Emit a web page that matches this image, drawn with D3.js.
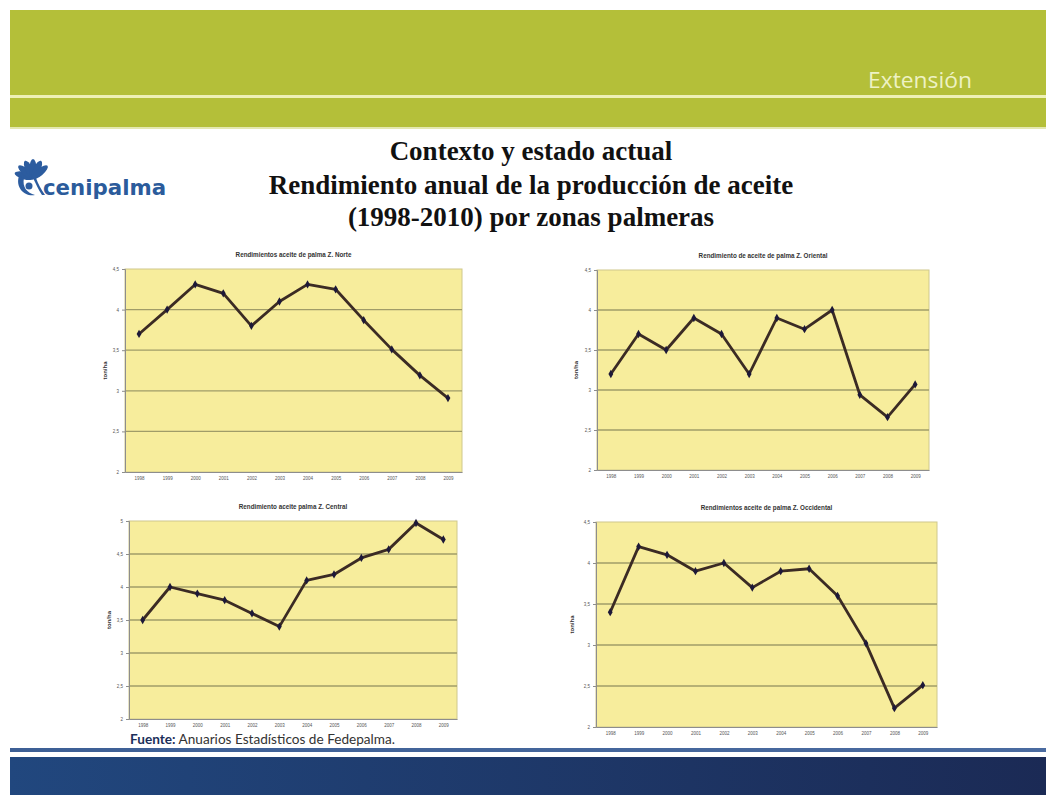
<!DOCTYPE html>
<html>
<head>
<meta charset="utf-8">
<script src="https://cdn.jsdelivr.net/npm/d3@7"></script>
<style>
  html, body { margin: 0; padding: 0; background: #ffffff; }
  svg { display: block; }
</style>
</head>
<body>
<svg id="slide" width="1046" height="795"></svg>
<script>
// Years on the horizontal axis of every panel
const years = ['1998', '1999', '2000', '2001', '2002', '2003', '2004', '2005', '2006', '2007', '2008', '2009'];

// Oil yield (t/ha) per palm zone
const yieldNorte      = [3.70, 4.00, 4.31, 4.20, 3.80, 4.10, 4.31, 4.25, 3.87, 3.51, 3.19, 2.91];
const yieldOriental   = [3.20, 3.70, 3.50, 3.90, 3.70, 3.20, 3.90, 3.76, 4.00, 2.94, 2.66, 3.07];
const yieldCentral    = [3.50, 4.00, 3.90, 3.80, 3.60, 3.40, 4.10, 4.19, 4.44, 4.57, 4.97, 4.72];
const yieldOccidental = [3.40, 4.20, 4.10, 3.90, 4.00, 3.70, 3.90, 3.93, 3.60, 3.02, 2.23, 2.51];

// Value-axis ticks
const ticksDefault = [2, 2.5, 3, 3.5, 4, 4.5];
const ticksCentral = [2, 2.5, 3, 3.5, 4, 4.5, 5];

// Panel titles
const titleNorte      = 'Rendimientos aceite de palma Z. Norte';
const titleOriental   = 'Rendimiento de aceite de palma Z. Oriental';
const titleCentral    = 'Rendimiento aceite palma Z. Central';
const titleOccidental = 'Rendimientos aceite de palma Z. Occidental';
const yAxisTitle = 'ton/ha';

const esLocale = d3.formatLocale({ decimal: ',', thousands: '.', grouping: [3], currency: ['', ' €'] });
const fmtTick = v => esLocale.format('~g')(v);

const svg = d3.select('#slide');

// ---------- header band ----------
svg.append('rect').attr('x', 10).attr('y', 10).attr('width', 1036).attr('height', 118).attr('fill', '#b4bf39');
svg.append('rect').attr('x', 10).attr('y', 95).attr('width', 1036).attr('height', 3).attr('fill', '#eef0b6');
svg.append('rect').attr('x', 10).attr('y', 127).attr('width', 1036).attr('height', 2).attr('fill', '#e4e8b0');
svg.append('text').attr('x', 972).attr('y', 88).attr('text-anchor', 'end')
  .attr('font-family', 'Open Sans, sans-serif').attr('font-size', 21).attr('fill', '#eef2c4')
  .attr('textLength', 104).attr('lengthAdjust', 'spacingAndGlyphs')
  .text('Extensión');

// ---------- footer band ----------
const defs = svg.append('defs');
const gFoot = defs.append('linearGradient').attr('id', 'footGrad').attr('x1', 0).attr('x2', 1).attr('y1', 0).attr('y2', 0);
gFoot.append('stop').attr('offset', '0%').attr('stop-color', '#21477e');
gFoot.append('stop').attr('offset', '100%').attr('stop-color', '#1b2a55');
const gLine = defs.append('linearGradient').attr('id', 'lineGrad').attr('x1', 0).attr('x2', 1).attr('y1', 0).attr('y2', 0);
gLine.append('stop').attr('offset', '0%').attr('stop-color', '#3d5f95');
gLine.append('stop').attr('offset', '100%').attr('stop-color', '#4a6ba0');
svg.append('rect').attr('x', 10).attr('y', 748).attr('width', 1036).attr('height', 4).attr('fill', 'url(#lineGrad)');
svg.append('rect').attr('x', 10).attr('y', 757).attr('width', 1036).attr('height', 38).attr('fill', 'url(#footGrad)');

// ---------- logo ----------
const logo = svg.append('g').attr('transform', 'translate(33,178)');
const frondAngles = [-165, -140, -115, -90, -65, -40];
logo.selectAll('ellipse.frond').data(frondAngles).join('ellipse')
  .attr('class', 'frond')
  .attr('cx', 0).attr('cy', 0).attr('rx', 10).attr('ry', 3.6)
  .attr('fill', '#2c5c9f')
  .attr('transform', a => `rotate(${a}) translate(9,0)`);
logo.append('path')
  .attr('d', 'M-14,-2 C-18,10 -8,19 2,17 C-6,15 -11,9 -9,0 Z')
  .attr('fill', '#2c5c9f');
logo.append('circle').attr('cx', -4).attr('cy', 8).attr('r', 3.5).attr('fill', '#2c5c9f');
logo.append('path')
  .attr('d', 'M0,0 C3,6 5,11 9,17 L12,17 C8,11 5,6 3,0 Z')
  .attr('fill', '#2c5c9f');
svg.append('text').attr('x', 43).attr('y', 195)
  .attr('font-family', 'DejaVu Sans Condensed, DejaVu Sans, sans-serif').attr('font-weight', 'bold')
  .attr('font-size', 22).attr('fill', '#2b5b9b')
  .attr('textLength', 123).attr('lengthAdjust', 'spacingAndGlyphs')
  .text('cenipalma');

// ---------- slide title ----------
const titleLines = ['Contexto y estado actual', 'Rendimiento anual de la producción de aceite', '(1998-2010) por zonas palmeras'];
const titleBaselines = [160, 194, 226];
svg.selectAll('text.slideTitle').data(titleLines).join('text')
  .attr('class', 'slideTitle')
  .attr('x', 531).attr('y', (d, i) => titleBaselines[i])
  .attr('text-anchor', 'middle')
  .attr('font-family', 'Liberation Serif, Times New Roman, serif').attr('font-weight', 'bold')
  .attr('font-size', 27).attr('fill', '#111')
  .text(d => d);

// ---------- chart panels ----------
const panels = [
  { title: titleNorte,      values: yieldNorte,      ticks: ticksDefault, x0: 125, x1: 462, y0: 269, y1: 472, yTitleX: 107 },
  { title: titleOriental,   values: yieldOriental,   ticks: ticksDefault, x0: 597, x1: 929, y0: 270, y1: 470, yTitleX: 578 },
  { title: titleCentral,    values: yieldCentral,    ticks: ticksCentral, x0: 129, x1: 457, y0: 521, y1: 719, yTitleX: 111 },
  { title: titleOccidental, values: yieldOccidental, ticks: ticksDefault, x0: 596, x1: 937, y0: 522, y1: 727, yTitleX: 574 }
];

panels.forEach(p => {
  const g = svg.append('g');
  const x = d3.scalePoint().domain(years).range([p.x0, p.x1]).padding(0.5);
  const y = d3.scaleLinear().domain(d3.extent(p.ticks)).range([p.y1, p.y0]);

  // plot area
  g.append('rect').attr('x', p.x0).attr('y', p.y0).attr('width', p.x1 - p.x0).attr('height', p.y1 - p.y0)
    .attr('fill', '#f7ed9c').attr('stroke', '#cfc88c').attr('stroke-width', 1);

  // gridlines
  g.selectAll('line.grid').data(p.ticks.slice(1, -1)).join('line')
    .attr('class', 'grid')
    .attr('x1', p.x0).attr('x2', p.x1)
    .attr('y1', d => y(d)).attr('y2', d => y(d))
    .attr('stroke', '#a09c68').attr('stroke-width', 1.3);

  // axes
  const yAxis = d3.axisLeft(y).tickValues(p.ticks).tickFormat(fmtTick).tickSize(3).tickPadding(3);
  const ga = g.append('g').attr('transform', `translate(${p.x0},0)`).call(yAxis);
  const xAxis = d3.axisBottom(x).tickSize(0).tickPadding(5);
  const gb = g.append('g').attr('transform', `translate(0,${p.y1})`).call(xAxis);
  [ga, gb].forEach(a => {
    a.selectAll('path, line').attr('stroke', '#8d8d8d');
    a.selectAll('text').attr('font-family', 'Arial, Liberation Sans, sans-serif')
      .attr('font-size', 4.5).attr('fill', '#555');
  });

  // panel title
  g.append('text').attr('x', (p.x0 + p.x1) / 2).attr('y', p.y0 - 12)
    .attr('text-anchor', 'middle')
    .attr('font-family', 'Arial, Liberation Sans, sans-serif').attr('font-weight', 'bold')
    .attr('font-size', 6.3).attr('fill', '#333')
    .text(p.title);

  // value-axis title
  g.append('text')
    .attr('transform', `translate(${p.yTitleX},${(p.y0 + p.y1) / 2}) rotate(-90)`)
    .attr('text-anchor', 'middle')
    .attr('font-family', 'Arial, Liberation Sans, sans-serif').attr('font-weight', 'bold')
    .attr('font-size', 6).attr('fill', '#333')
    .text(yAxisTitle);

  // series line and markers
  const pts = years.map((yr, i) => ({ yr, v: p.values[i] }));
  const line = d3.line().x(d => x(d.yr)).y(d => y(d.v));
  g.append('path').datum(pts).attr('d', line)
    .attr('fill', 'none').attr('stroke', '#3b2b24').attr('stroke-width', 2.8)
    .attr('stroke-linejoin', 'round');
  g.selectAll('path.marker').data(pts).join('path')
    .attr('class', 'marker')
    .attr('d', d3.symbol(d3.symbolDiamond, 20))
    .attr('transform', d => `translate(${x(d.yr)},${y(d.v)})`)
    .attr('fill', '#1d1838');
});

// ---------- source note ----------
const src = svg.append('text').attr('x', 130).attr('y', 744)
  .attr('font-family', 'Lato, Open Sans, sans-serif').attr('font-size', 13).attr('fill', '#333')
  .attr('textLength', 265).attr('lengthAdjust', 'spacingAndGlyphs');
src.append('tspan').attr('font-weight', 'bold').attr('fill', '#1c2f5a').text('Fuente:');
src.append('tspan').text(' Anuarios Estadísticos de Fedepalma.');
</script>
</body>
</html>
